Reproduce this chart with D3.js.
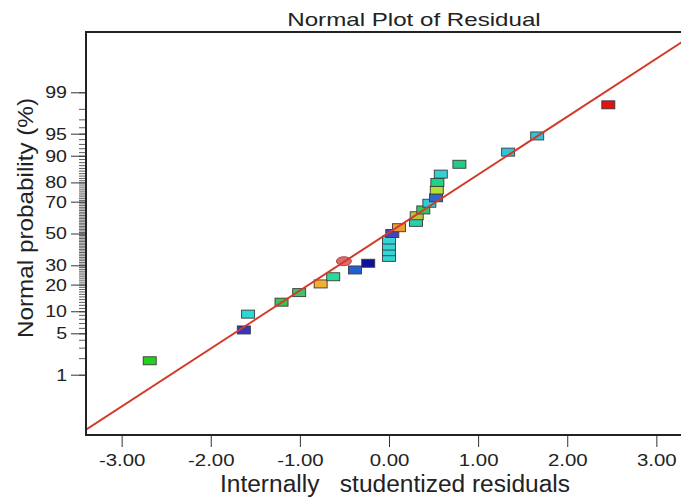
<!DOCTYPE html>
<html>
<head>
<meta charset="utf-8">
<script src="https://cdn.jsdelivr.net/npm/d3@7"></script>
<style>
  body { margin: 0; background: #fff; }
  svg { display: block; font-family: "Liberation Sans", Arial, sans-serif; }
  .axis text { fill: #222; }
  .axis line { stroke: #333; }
</style>
</head>
<body>
<div id="chart"></div>
<script>
// residuals (x) and normal probability in % (y)
var residuals = [-2.685, -1.629, -1.581, -1.206, -1.008, -0.767, -0.626, -0.382, -0.233, -0.506,
    0.0, 0.0, 0.0, 0.0, 0.037, 0.112, 0.303, 0.311, 0.385, 0.453, 0.528, 0.536, 0.543, 0.581,
    0.790, 1.337, 1.663, 2.461];
var probabilities = [1.8, 5.6, 9.2, 12.9, 16.5, 20.3, 23.8, 27.4, 31.2, 32.4,
    34.7, 38.2, 41.8, 45.7, 50.0, 53.8, 57.3, 61.5, 65.1, 69.1, 72.2, 76.3, 80.0, 83.6,
    87.3, 91.0, 94.6, 98.3];
var pointColors = ["#22d022", "#3535c0", "#2ed6d6", "#3cc05a", "#3ec468", "#f2b030", "#2ed896", "#2060d0", "#10109e", "#e06a6a",
    "#2ed6d6", "#2ed6d6", "#2ed6d6", "#36d2d8", "#4444b8", "#f09a30", "#26d0aa", "#b8c440", "#34c462", "#32c8e0",
    "#3466c8", "#b2e034", "#22d284", "#32d2d2", "#22cc84", "#30c4d8", "#30c4d8", "#e01212"];
var pointShapes = ["rect", "rect", "rect", "rect", "rect", "rect", "rect", "rect", "rect", "ellipse",
    "rect", "rect", "rect", "rect", "rect", "rect", "rect", "rect", "rect", "rect",
    "rect", "rect", "rect", "rect", "rect", "rect", "rect", "rect"];

var xTicks = [-3, -2, -1, 0, 1, 2, 3];
var yMajorTicks = [1, 5, 10, 20, 30, 50, 70, 80, 90, 95, 99];
var yMinorTicks = d3.range(1, 100);

// fitted reference line, in residual -> normal score units
var lineIntercept = 0.015;
var lineSlope = 0.955;

// inverse of the standard normal cdf (Acklam approximation)
function probit(p) {
    var a = [-3.969683028665376e+01, 2.209460984245205e+02, -2.759285104469687e+02, 1.383577518672690e+02, -3.066479806614716e+01, 2.506628277459239e+00];
    var b = [-5.447609879822406e+01, 1.615858368580409e+02, -1.556989798598866e+02, 6.680131188771972e+01, -1.328068155288572e+01];
    var c = [-7.784894002430293e-03, -3.223964580411365e-01, -2.400758277161838e+00, -2.549732539343734e+00, 4.374664141464968e+00, 2.938163982698783e+00];
    var d = [7.784695709041462e-03, 3.224671290700398e-01, 2.445134137142996e+00, 3.754408661907416e+00];
    var pl = 0.02425, q, r;
    if (p < pl) {
        q = Math.sqrt(-2 * Math.log(p));
        return (((((c[0] * q + c[1]) * q + c[2]) * q + c[3]) * q + c[4]) * q + c[5]) / ((((d[0] * q + d[1]) * q + d[2]) * q + d[3]) * q + 1);
    }
    if (p > 1 - pl) {
        q = Math.sqrt(-2 * Math.log(1 - p));
        return -(((((c[0] * q + c[1]) * q + c[2]) * q + c[3]) * q + c[4]) * q + c[5]) / ((((d[0] * q + d[1]) * q + d[2]) * q + d[3]) * q + 1);
    }
    q = p - 0.5; r = q * q;
    return (((((a[0] * r + a[1]) * r + a[2]) * r + a[3]) * r + a[4]) * r + a[5]) * q / (((((b[0] * r + b[1]) * r + b[2]) * r + b[3]) * r + b[4]) * r + 1);
}

// stretch text horizontally, the source font is wider than Arial
function stretch(sel, factor) {
    sel.each(function () {
        var len = this.getComputedTextLength();
        d3.select(this).attr("textLength", len * factor).attr("lengthAdjust", "spacingAndGlyphs");
    });
}

var W = 681, H = 500;
var margin = { top: 32, left: 86 };
var plotW = 606, plotH = 403;

var svg = d3.select("#chart").append("svg")
    .attr("width", W)
    .attr("height", H);

var x = d3.scaleLinear().domain([-3.4, 3.4]).range([margin.left, margin.left + plotW]);
var z = d3.scaleLinear().domain([-3.32, 3.32]).range([margin.top + plotH, margin.top]);
var y = function (pct) { return z(probit(pct / 100)); };

svg.append("clipPath").attr("id", "plotClip")
    .append("rect")
    .attr("x", margin.left).attr("y", margin.top)
    .attr("width", plotW).attr("height", plotH);

// title
var title = svg.append("text")
    .attr("x", 414).attr("y", 26)
    .attr("text-anchor", "middle")
    .style("font-size", "19px")
    .style("fill", "#222")
    .text("Normal Plot of Residual");
stretch(title, 1.27);

// x axis
var xAxis = svg.append("g")
    .attr("class", "axis")
    .attr("transform", "translate(0," + (margin.top + plotH) + ")")
    .call(d3.axisBottom(x).tickValues(xTicks).tickSize(12).tickSizeOuter(0).tickPadding(6)
        .tickFormat(function (d) { return d.toFixed(2); }));
xAxis.select(".domain").remove();
xAxis.selectAll("text").style("font-size", "17px").attr("dy", "0.75em");
stretch(xAxis.selectAll("text"), 1.2);

// y axis: minor ticks every 1 %, major ticks with labels
var yMinor = svg.append("g")
    .attr("class", "axis")
    .attr("transform", "translate(" + margin.left + ",0)")
    .call(d3.axisLeft(z).tickValues(yMinorTicks.map(function (p) { return probit(p / 100); }))
        .tickSize(7).tickSizeOuter(0).tickFormat(""));
yMinor.select(".domain").remove();
yMinor.selectAll("line").style("stroke-width", 0.8);

var yAxis = svg.append("g")
    .attr("class", "axis")
    .attr("transform", "translate(" + margin.left + ",0)")
    .call(d3.axisLeft(z).tickValues(yMajorTicks.map(function (p) { return probit(p / 100); }))
        .tickSize(15).tickSizeOuter(0).tickPadding(4)
        .tickFormat(function (d, i) { return yMajorTicks[i]; }));
yAxis.select(".domain").remove();
yAxis.selectAll("text").style("font-size", "17px");
stretch(yAxis.selectAll("text"), 1.15);

// axis titles
var xTitle = svg.append("text")
    .attr("x", 395).attr("y", 492)
    .attr("text-anchor", "middle")
    .style("font-size", "23px")
    .style("fill", "#222")
    .style("white-space", "pre")
    .text("Internally   studentized residuals")
    .attr("textLength", 350)
    .attr("lengthAdjust", "spacingAndGlyphs");

var yTitle = svg.append("text")
    .attr("transform", "translate(33,218) rotate(-90)")
    .attr("text-anchor", "middle")
    .style("font-size", "22px")
    .style("fill", "#222")
    .text("Normal probability (%)")
    .attr("textLength", 240)
    .attr("lengthAdjust", "spacingAndGlyphs");

// points
var points = residuals.map(function (r, i) {
    return { res: r, pct: probabilities[i], color: pointColors[i], shape: pointShapes[i] };
});

var plot = svg.append("g").attr("clip-path", "url(#plotClip)");

plot.selectAll(".pt-rect")
    .data(points.filter(function (d) { return d.shape === "rect"; }))
    .enter().append("rect")
    .attr("class", "pt-rect")
    .attr("x", function (d) { return x(d.res) - 6.5; })
    .attr("y", function (d) { return y(d.pct) - 4; })
    .attr("width", 13)
    .attr("height", 8)
    .style("fill", function (d) { return d.color; })
    .style("stroke", "#3a3a3a")
    .style("stroke-width", 0.9);

plot.selectAll(".pt-ellipse")
    .data(points.filter(function (d) { return d.shape === "ellipse"; }))
    .enter().append("ellipse")
    .attr("class", "pt-ellipse")
    .attr("cx", function (d) { return x(d.res); })
    .attr("cy", function (d) { return y(d.pct); })
    .attr("rx", 7.5)
    .attr("ry", 4.5)
    .style("fill", function (d) { return d.color; })
    .style("stroke", "#9a4040")
    .style("stroke-width", 0.9);

// fitted line
var xd = x.domain();
plot.append("line")
    .attr("x1", x(xd[0])).attr("y1", z(lineIntercept + lineSlope * xd[0]))
    .attr("x2", x(xd[1])).attr("y2", z(lineIntercept + lineSlope * xd[1]))
    .style("stroke", "#d23a2a")
    .style("stroke-width", 2);

// frame
svg.append("rect")
    .attr("x", margin.left).attr("y", margin.top)
    .attr("width", plotW).attr("height", plotH)
    .style("fill", "none")
    .style("stroke", "#222")
    .style("stroke-width", 2);
</script>
</body>
</html>
